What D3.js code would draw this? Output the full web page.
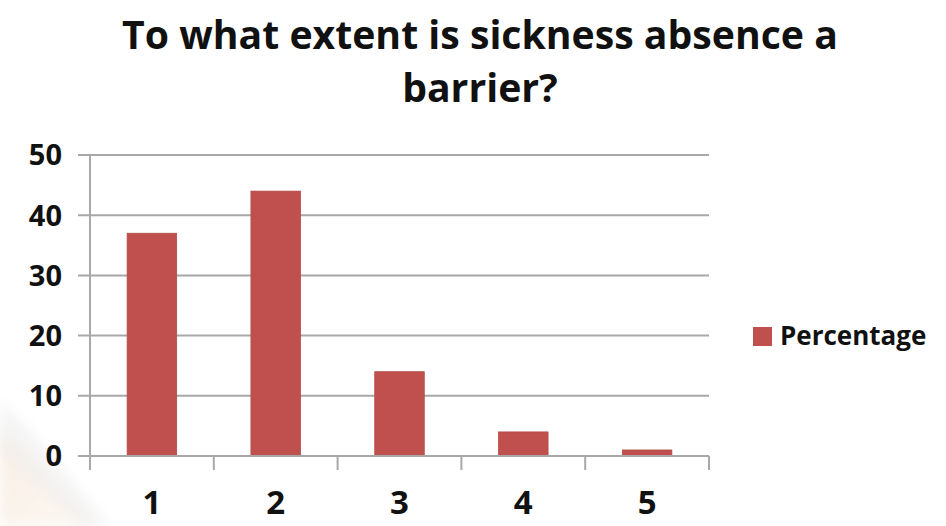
<!DOCTYPE html>
<html>
<head>
<meta charset="utf-8">
<script src="https://cdn.jsdelivr.net/npm/d3@7"></script>
<style>
  html, body { margin: 0; padding: 0; background: #ffffff; }
  svg { display: block; }
  text { font-family: "Open Sans", "DejaVu Sans", sans-serif; font-weight: 700; fill: #111; }
</style>
</head>
<body>
<svg id="chart" width="946" height="526"></svg>
<script>
// Survey responses: share of answers for each rating 1–5
const categories = ["1", "2", "3", "4", "5"];
const percentage = [37, 44, 14, 4, 1];
const yTicks = [0, 10, 20, 30, 40, 50];
const seriesName = "Percentage";
const titleLines = ["To what extent is sickness absence a", "barrier?"];

const barColor = "#c0504d";
const gridColor = "#a8a8a8";

const svg = d3.select("#chart");

// faint decorative wash in the lower-left corner
const defs = svg.append("defs");
const grad = defs.append("linearGradient").attr("id", "wash")
  .attr("x1", "0").attr("y1", "0").attr("x2", "1").attr("y2", "1");
grad.append("stop").attr("offset", "0").attr("stop-color", "#f8eee4");
grad.append("stop").attr("offset", "1").attr("stop-color", "#fcf8f3");
defs.append("filter").attr("id", "soft").append("feGaussianBlur").attr("stdDeviation", 6);
svg.append("path")
  .attr("d", "M0,430 L40,470 L95,526 L0,526 Z")
  .attr("fill", "url(#wash)")
  .attr("filter", "url(#soft)");
svg.append("path")
  .attr("d", "M0,400 L30,430 L110,526 L80,526 L0,450 Z")
  .attr("fill", "#eeeeee")
  .attr("opacity", 0.6)
  .attr("filter", "url(#soft)");

const plot = { left: 90, right: 709, top: 155, bottom: 456 };

const x = d3.scaleBand()
  .domain(categories)
  .range([plot.left, plot.right])
  .paddingInner(0.6)
  .paddingOuter(0.3);

const xEdges = d3.scaleBand()
  .domain(categories)
  .range([plot.left, plot.right])
  .padding(0);

const y = d3.scaleLinear()
  .domain([0, 50])
  .range([plot.bottom, plot.top]);

// horizontal gridlines (extend left as tick marks)
svg.append("g")
  .selectAll("line")
  .data(yTicks)
  .join("line")
  .attr("x1", plot.left - 12)
  .attr("x2", plot.right)
  .attr("y1", d => y(d))
  .attr("y2", d => y(d))
  .attr("stroke", gridColor)
  .attr("stroke-width", 2);

// bars
svg.append("g")
  .selectAll("rect")
  .data(categories.map((c, i) => ({ c, v: percentage[i] })))
  .join("rect")
  .attr("x", d => x(d.c))
  .attr("width", x.bandwidth())
  .attr("y", d => y(d.v))
  .attr("height", d => y(0) - y(d.v))
  .attr("fill", barColor)
  .attr("stroke", "#b24a47")
  .attr("stroke-width", 0.8);

// y axis line
svg.append("line")
  .attr("x1", plot.left).attr("x2", plot.left)
  .attr("y1", plot.top).attr("y2", plot.bottom + 14)
  .attr("stroke", gridColor).attr("stroke-width", 2);

// x axis baseline and category boundary ticks
svg.append("line")
  .attr("x1", plot.left - 12).attr("x2", plot.right)
  .attr("y1", plot.bottom).attr("y2", plot.bottom)
  .attr("stroke", gridColor).attr("stroke-width", 2);

const edges = categories.map(c => xEdges(c)).concat([xEdges(categories[categories.length - 1]) + xEdges.bandwidth()]);
svg.append("g")
  .selectAll("line")
  .data(edges)
  .join("line")
  .attr("x1", d => d).attr("x2", d => d)
  .attr("y1", plot.bottom).attr("y2", plot.bottom + 14)
  .attr("stroke", gridColor).attr("stroke-width", 2);

// y tick labels
svg.append("g")
  .selectAll("text")
  .data(yTicks)
  .join("text")
  .attr("x", 62)
  .attr("y", d => y(d))
  .attr("dy", "0.36em")
  .attr("text-anchor", "end")
  .style("font-size", "29px")
  .text(d => d);

// x tick labels
svg.append("g")
  .selectAll("text")
  .data(categories)
  .join("text")
  .attr("x", d => x(d) + x.bandwidth() / 2)
  .attr("y", 514)
  .attr("text-anchor", "middle")
  .style("font-size", "33px")
  .text(d => d);

// legend
svg.append("rect")
  .attr("x", 753).attr("y", 327)
  .attr("width", 19).attr("height", 19)
  .attr("fill", barColor);
svg.append("text")
  .attr("x", 780).attr("y", 345)
  .style("font-size", "26px")
  .text(seriesName);

// title, sized so the first line spans its measured width
const title = svg.append("g");
const t1 = title.append("text")
  .attr("x", 480).attr("y", 49)
  .attr("text-anchor", "middle")
  .style("font-size", "36px")
  .text(titleLines[0]);
const w = t1.node().getComputedTextLength();
const fs = 36 * 716 / w;
t1.style("font-size", fs + "px");
title.append("text")
  .attr("x", 480).attr("y", 102)
  .attr("text-anchor", "middle")
  .style("font-size", fs + "px")
  .text(titleLines[1]);
</script>
</body>
</html>
